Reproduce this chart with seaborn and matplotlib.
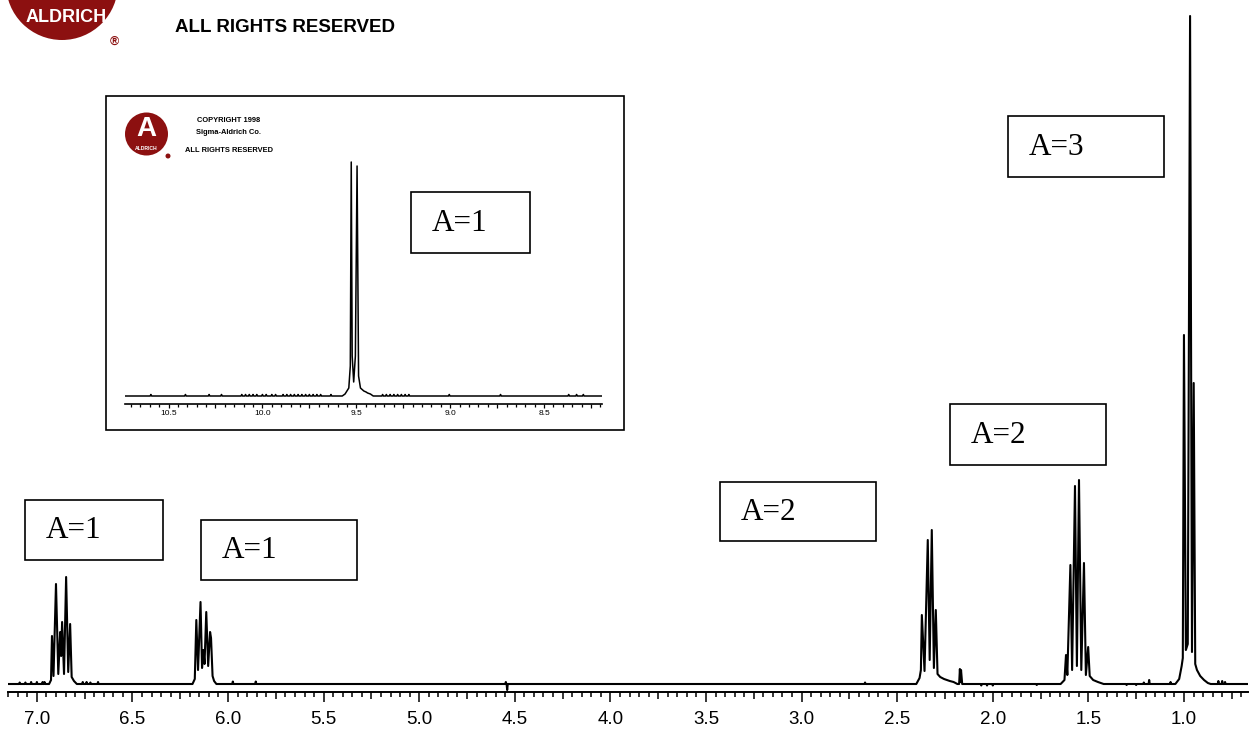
import matplotlib

matplotlib.use("Agg")
import matplotlib.pyplot as plt
import numpy as np
import pandas as pd
import seaborn as sns
from matplotlib.patches import Circle, Rectangle
from matplotlib.ticker import FormatStrFormatter, MultipleLocator

W, H = 1251, 734
ALDRICH_RED = "#8c1010"

# ---- main spectrum (ppm, intensity) ----
EDGE_PPM = [7.151, 0.665]
EDGE_INT = [0, 0]

M1_PPM = [6.936, 6.926, 6.921, 6.913, 6.900, 6.888, 6.878, 6.873, 6.868, 6.858,
          6.847, 6.836, 6.826, 6.818, 6.806, 6.791]
M1_INT = [0, 4, 48, 8, 100, 10, 52, 28, 62, 10, 107, 12, 60, 7, 3, 0]

M2_PPM = [6.186, 6.174, 6.166, 6.157, 6.144, 6.136, 6.129, 6.123, 6.114, 6.104,
          6.094, 6.089, 6.081, 6.073, 6.061]
M2_INT = [0, 5, 64, 14, 82, 16, 34, 20, 72, 18, 52, 46, 8, 3, 0]

M3_PPM = [2.400, 2.383, 2.376, 2.371, 2.357, 2.340, 2.330, 2.319, 2.308, 2.298,
          2.289, 2.275, 2.255, 2.225, 2.205, 2.185, 2.176, 2.172, 2.169, 2.166, 2.160]
M3_INT = [0, 6, 14, 69, 13, 144, 24, 154, 16, 74, 10, 7, 5, 3, 2, 0, 0, 15, 2, 14, 0]

M4_PPM = [1.645, 1.625, 1.617, 1.610, 1.594, 1.585, 1.570, 1.560, 1.549, 1.537,
          1.523, 1.513, 1.501, 1.493, 1.475, 1.450, 1.420]
M4_INT = [0, 4, 29, 9, 119, 14, 198, 18, 204, 14, 121, 9, 37, 8, 4, 2, 0]

M5_PPM = [1.045, 1.025, 1.012, 1.006, 1.000, 0.990, 0.980, 0.968, 0.958, 0.949,
          0.941, 0.932, 0.915, 0.895, 0.875, 0.860]
M5_INT = [0, 5, 18, 26, 349, 34, 40, 668, 32, 301, 20, 14, 8, 4, 1, 0]

BLIP_PPM = [7.09, 7.06, 7.03, 7.00, 6.97, 6.96, 6.76, 6.74, 6.72, 6.68, 5.975,
            5.855, 4.547, 4.540, 2.668, 2.06, 2.03, 2.00, 1.77, 1.30, 1.25, 1.21,
            1.182, 1.07, 0.82, 0.80, 0.785]
BLIP_INT = [1.5, 1.5, 2, 2, 2, 2, 2, 2, 1.5, 2, 2.5, 2.5, 2, -6, 1.5, -1.5, -1.5,
            -1.5, -1, -1, -1, 1.5, 4, 2, 3, 3, 2]

# ---- inset spectrum ----
IN_EDGE_PPM = [10.734, 8.19]
IN_EDGE_INT = [0, 0]
IN_PEAK_PPM = [9.575, 9.560, 9.540, 9.532, 9.527, 9.522, 9.514, 9.505, 9.496,
               9.488, 9.478, 9.460, 9.448, 9.440, 9.425, 9.410]
IN_PEAK_INT = [0, 2, 8, 30, 234, 40, 14, 40, 230, 20, 8, 5, 4, 3, 2, 0]
IN_BLIP_PPM = [10.594, 10.41, 10.284, 10.218, 10.11, 10.09, 10.07, 10.05, 10.03,
               10.00, 9.98, 9.95, 9.93, 9.89, 9.87, 9.85, 9.83, 9.81, 9.79, 9.77,
               9.75, 9.73, 9.71, 9.69, 9.635, 9.36, 9.34, 9.32, 9.30, 9.28, 9.26,
               9.24, 9.22, 9.005, 8.732, 8.369, 8.327, 8.291]
IN_BLIP_INT = [1.5] * len(IN_BLIP_PPM)

# annotation texts and where their boxes sit (figure pixels x0, y0, x1, y1)
LABELS = ["A=1", "A=1", "A=2", "A=2", "A=3", "A=1"]
BOXES = [(25, 500, 163, 560), (201, 520, 357, 580), (720, 482, 876, 541),
         (950, 404, 1106, 465), (1008, 116, 1164, 177), (411, 192, 530, 253)]


def build_trace(segments, blip_ppm, blip_int, half=0.003):
    ppm, val = [], []
    for p, v in segments:
        ppm += list(p)
        val += list(v)
    for p, h in zip(blip_ppm, blip_int):
        ppm += [p + half, p, p - half]
        val += [0, h, 0]
    df = pd.DataFrame({"ppm": ppm, "intensity": val})
    return df.sort_values("ppm", ascending=False, kind="mergesort")


def fx(px):
    return px / W


def fy(py):
    return 1 - py / H


def style_axis(ax, lo, hi, major_len, minor_len, width, size, pad):
    for side in ["top", "left", "right"]:
        ax.spines[side].set_visible(False)
    ax.spines["bottom"].set_linewidth(width + 0.3)
    ax.set_xlim(lo, hi)
    ax.set_yticks([])
    ax.set_xlabel("")
    ax.set_ylabel("")
    ax.xaxis.set_major_locator(MultipleLocator(0.5))
    ax.xaxis.set_minor_locator(MultipleLocator(0.05))
    ax.xaxis.set_major_formatter(FormatStrFormatter("%.1f"))
    ax.tick_params(axis="x", which="major", direction="out", length=major_len,
                   width=width, labelsize=size, pad=pad, colors="black")
    ax.tick_params(axis="x", which="minor", direction="out", length=minor_len,
                   width=width, colors="black")
    ax.patch.set_visible(False)


def stretch_mid_ticks(ax, mid_len):
    for tick in ax.xaxis.get_minor_ticks(len(ax.xaxis.get_minorticklocs())):
        q = tick.get_loc() / 0.25
        if abs(q - round(q)) < 1e-6:
            tick.tick1line.set_markersize(mid_len)


sns.set_theme(style="ticks", rc={"axes.edgecolor": "black", "text.color": "black",
                                 "xtick.color": "black"})
plt.rcParams["font.family"] = ["Liberation Sans", "DejaVu Sans"]

fig = plt.figure(figsize=(W / 100, H / 100), dpi=100)

# main spectrum axes: axis line at y=692 px, baseline at 684 px
ax = fig.add_axes([fx(8), fy(692), (1248 - 8) / W, 692 / H])
main_df = build_trace(
    [(EDGE_PPM, EDGE_INT), (M1_PPM, M1_INT), (M2_PPM, M2_INT), (M3_PPM, M3_INT),
     (M4_PPM, M4_INT), (M5_PPM, M5_INT)],
    BLIP_PPM, BLIP_INT)
sns.lineplot(data=main_df, x="ppm", y="intensity", sort=False, estimator=None,
             color="black", lw=1.5, ax=ax)
ax.set_ylim(-8, 684)
style_axis(ax, 7.151, 0.665, 7.2, 3.6, 1.1, 13.5, 6.5)

# inset axes: axis line at y=404 px, baseline at 396 px
ax2 = fig.add_axes([fx(124.6), fy(404), (602.3 - 124.6) / W, (404 - 110) / H])
inset_df = build_trace([(IN_EDGE_PPM, IN_EDGE_INT), (IN_PEAK_PPM, IN_PEAK_INT)],
                       IN_BLIP_PPM, IN_BLIP_INT, half=0.004)
sns.lineplot(data=inset_df, x="ppm", y="intensity", sort=False, estimator=None,
             color="black", lw=1.1, ax=ax2)
ax2.set_ylim(-8, 286)
style_axis(ax2, 10.734, 8.19, 3.0, 2.0, 0.9, 6, 1.5)

fig.canvas.draw()
stretch_mid_ticks(ax, 5.0)
stretch_mid_ticks(ax2, 3.0)

# overlay in pixel coordinates for the boxes, logos and notices
ov = fig.add_axes([0, 0, 1, 1], zorder=5)
ov.set_xlim(0, W)
ov.set_ylim(H, 0)
ov.axis("off")

ov.add_patch(Rectangle((106, 96), 624 - 106, 430 - 96, fill=False, lw=1.2, ec="black"))
for label, (x0, y0, x1, y1) in zip(LABELS, BOXES):
    ov.add_patch(Rectangle((x0, y0), x1 - x0, y1 - y0, fill=False, lw=1.2, ec="black"))
    ov.text(x0 + 21, (y0 + y1) / 2 + 1, label, ha="left", va="center",
            fontsize=22.5, family=["Liberation Serif", "DejaVu Serif"])

# top-left Aldrich logo (cut by the top edge)
ov.add_patch(Circle((62, -16), 56, color=ALDRICH_RED, lw=0))
ov.text(66, 18, "ALDRICH", color="white", fontsize=13, fontweight="bold",
        ha="center", va="center")
ov.text(114, 42, "®", color=ALDRICH_RED, fontsize=9, fontweight="bold",
        ha="center", va="center")
ov.text(175, 27, "ALL RIGHTS RESERVED", fontsize=13.5, fontweight="bold",
        ha="left", va="center")

# inset logo and notice
ov.add_patch(Circle((146.5, 134), 21.5, color=ALDRICH_RED, lw=0))
ov.text(146.5, 129, "A", color="white", fontsize=20, fontweight="bold",
        ha="center", va="center")
ov.text(146.5, 148, "ALDRICH", color="white", fontsize=3.6, fontweight="bold",
        ha="center", va="center")
ov.add_patch(Circle((168, 156), 2.5, color=ALDRICH_RED, lw=0))
for text, y in [("COPYRIGHT 1998", 121), ("Sigma-Aldrich Co.", 133),
                ("ALL RIGHTS RESERVED", 151)]:
    ov.text(229, y, text, fontsize=5.4, fontweight="bold", ha="center", va="center")

fig.savefig("out.png", dpi=100)
plt.close(fig)
